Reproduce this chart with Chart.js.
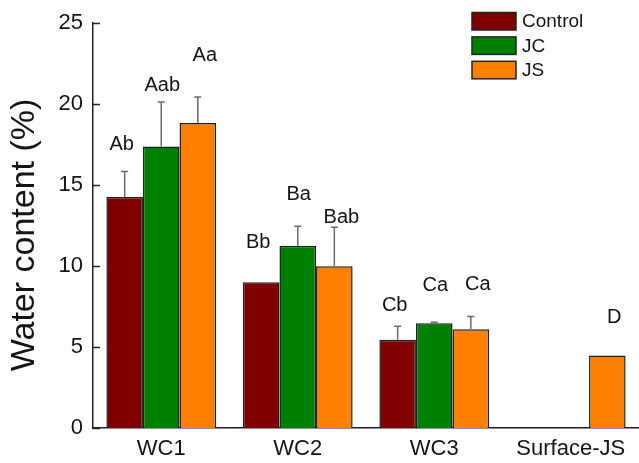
<!DOCTYPE html>
<html>
<head>
<meta charset="utf-8">
<title>Water content</title>
<script src="https://cdn.jsdelivr.net/npm/chart.js@4/dist/chart.umd.min.js"></script>
<style>
  html, body { margin: 0; padding: 0; background: #ffffff; }
  canvas { display: block; }
</style>
</head>
<body>
<canvas id="chart" width="639" height="463"></canvas>
<script>
// Soil water content by layer and treatment (mean + SE)
const categories = ['WC1', 'WC2', 'WC3', 'Surface-JS'];
const seriesNames = ['Control', 'JC', 'JS'];

const controlValues = [14.26, 9.00, 5.45, null];
const jcValues      = [17.38, 11.26, 6.47, null];
const jsValues      = [18.83, 9.99, 6.10, 4.47];

const controlErrors = [1.58, null, 0.84, null];
const jcErrors      = [2.76, 1.20, 0.06, null];
const jsErrors      = [1.61, 2.41, 0.78, null];

// significance letters and the value level they sit at
const controlLetters = ['Ab', 'Bb', 'Cb', ''];
const jcLetters      = ['Aab', 'Ba', 'Ca', ''];
const jsLetters      = ['Aa', 'Bab', 'Ca', 'D'];
const controlLetterLevels = [17.5, 11.45, 7.55, null];
const jcLetterLevels      = [21.15, 14.4, 8.8, null];
const jsLetterLevels      = [23.0, 13.0, 8.85, 6.8];

const yTicks = [0, 5, 10, 15, 20, 25];
const yTitle = 'Water content (%)';

const FONT = '"Liberation Sans", Arial, Helvetica, sans-serif';
const TEXT = '#141414';
const AXIS = '#222222';

const errorsBySeries  = [controlErrors, jcErrors, jsErrors];
const lettersBySeries = [controlLetters, jcLetters, jsLetters];
const levelsBySeries  = [controlLetterLevels, jcLetterLevels, jsLetterLevels];

const annotations = {
  id: 'annotations',
  afterDatasetsDraw(chart, args, opts) {
    const ctx = chart.ctx;
    const y = chart.scales.y;
    const area = chart.chartArea;
    ctx.save();

    // inward tick marks on the y axis
    ctx.strokeStyle = AXIS;
    ctx.lineWidth = 1.5;
    y.ticks.forEach(t => {
      const py = Math.round(y.getPixelForValue(t.value)) + 0.5;
      ctx.beginPath();
      ctx.moveTo(area.left, py);
      ctx.lineTo(area.left + 7, py);
      ctx.stroke();
    });

    // error bars (upper half only)
    ctx.strokeStyle = '#6a6a6a';
    ctx.lineWidth = 1.5;
    chart.data.datasets.forEach((ds, di) => {
      const meta = chart.getDatasetMeta(di);
      meta.data.forEach((bar, i) => {
        const v = ds.data[i];
        const e = errorsBySeries[di][i];
        if (v == null || e == null) return;
        const top = y.getPixelForValue(v + e);
        ctx.beginPath();
        ctx.moveTo(bar.x, bar.y);
        ctx.lineTo(bar.x, top);
        ctx.moveTo(bar.x - 3.5, top);
        ctx.lineTo(bar.x + 3.5, top);
        ctx.stroke();
      });
    });

    // letters
    ctx.fillStyle = TEXT;
    ctx.font = '20px ' + FONT;
    ctx.textAlign = 'center';
    ctx.textBaseline = 'middle';
    chart.data.datasets.forEach((ds, di) => {
      const meta = chart.getDatasetMeta(di);
      meta.data.forEach((bar, i) => {
        const txt = lettersBySeries[di][i];
        const lvl = levelsBySeries[di][i];
        if (!txt || lvl == null) return;
        ctx.fillText(txt, bar.x + opts.nudge[di], y.getPixelForValue(lvl));
      });
    });

    // legend
    ctx.textAlign = 'left';
    ctx.font = '19px ' + FONT;
    chart.data.datasets.forEach((ds, di) => {
      const by = 12.5 + di * 24.4;
      ctx.fillStyle = ds.backgroundColor;
      ctx.fillRect(472, by, 44, 17.5);
      ctx.strokeStyle = '#222';
      ctx.lineWidth = 1.5;
      ctx.strokeRect(472, by, 44, 17.5);
      ctx.fillStyle = TEXT;
      ctx.fillText(ds.label, 522, by + 9.5);
    });

    // y axis title
    ctx.translate(24, 235);
    ctx.rotate(-Math.PI / 2);
    ctx.textAlign = 'center';
    ctx.font = '34px ' + FONT;
    ctx.fillText(yTitle, 0, 1);
    ctx.restore();
  }
};

const colors = ['#800000', '#008000', '#ff8000'];
const values = [controlValues, jcValues, jsValues];

new Chart(document.getElementById('chart'), {
  type: 'bar',
  data: {
    labels: categories,
    datasets: seriesNames.map((name, i) => ({
      label: name,
      data: values[i],
      backgroundColor: colors[i],
      borderColor: '#1e1e1e',
      borderWidth: 1.5,
      categoryPercentage: 0.804,
      barPercentage: 1.0
    }))
  },
  options: {
    responsive: false,
    animation: false,
    devicePixelRatio: 1,
    layout: { padding: { left: 0, top: 20, right: 0, bottom: 0 } },
    plugins: {
      legend: { display: false },
      tooltip: { enabled: false },
      annotations: { nudge: [-3, 1, 7] }
    },
    scales: {
      x: {
        grid: { display: false, drawTicks: false },
        border: { display: true, color: AXIS, width: 1.5 },
        ticks: { color: TEXT, font: { family: FONT, size: 22 }, padding: 8, maxRotation: 0 },
        afterFit(s) { s.height = 35; }
      },
      y: {
        min: 0,
        max: 25,
        grid: { display: false, drawTicks: false },
        border: { display: true, color: AXIS, width: 1.5 },
        ticks: { color: TEXT, font: { family: FONT, size: 22 }, padding: 10 },
        afterBuildTicks(s) { s.ticks = yTicks.map(v => ({ value: v })); },
        afterFit(s) { s.width = 93; }
      }
    }
  },
  plugins: [annotations]
});
</script>
</body>
</html>
